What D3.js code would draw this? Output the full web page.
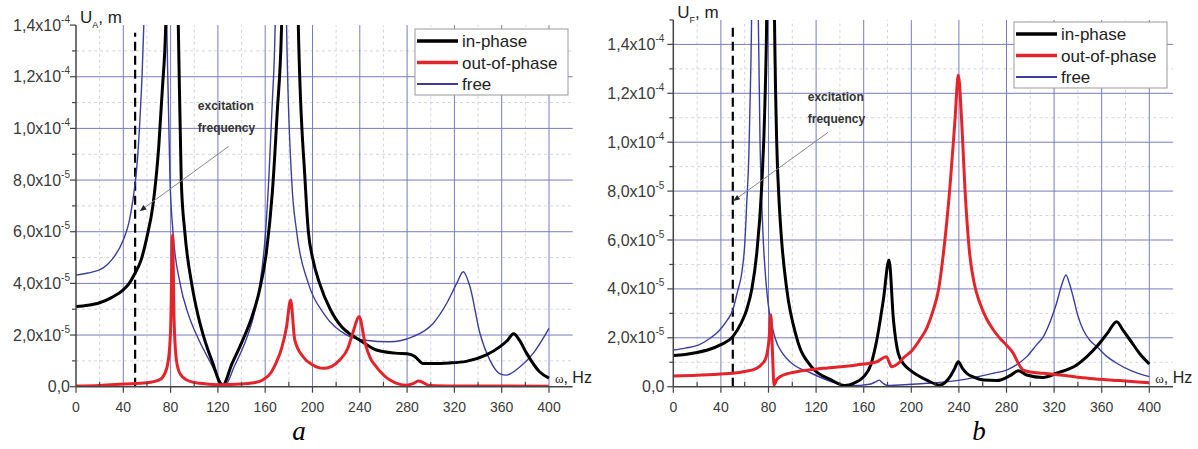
<!DOCTYPE html>
<html>
<head>
<meta charset="utf-8">
<script src="https://cdn.jsdelivr.net/npm/d3@7"></script>
<style>
  body { margin: 0; background: #fff; }
  svg { display: block; font-family: Arial, "Liberation Sans", sans-serif; }
</style>
</head>
<body>
<div id="chart-container"></div>
<script>
// values: [frequency Hz, amplitude in units of 1e-5 m]
const seriesNames = ["in-phase", "out-of-phase", "free"];

const aInPhase = [[0,3.1],[10,3.15],[20,3.25],[30,3.45],[40,3.75],[45,4.0],[50,4.4],[55,4.9],[60,5.8],[65,7.0],[70,9.3],[73,11.5],[76,14.2],[80,40],[84,19],[86.5,14],[89,8.0],[92,6.0],[97.8,4.0],[103,2.8],[107.6,2.0],[115,1.0],[124,0.05],[132,0.9],[140,1.7],[148,2.6],[155,3.7],[161,5.2],[166,7.5],[170,10.5],[174,14.2],[181,40],[188,14],[193.7,8.0],[196.5,6.0],[200,5.0],[206,4.0],[215,3.0],[225,2.3],[233,2.0],[240,1.8],[254,1.42],[270,1.3],[283,1.25],[287,1.15],[293.6,0.9],[300,0.9],[316,0.92],[330,0.98],[347,1.23],[358.6,1.55],[365,1.8],[370,2.05],[375,1.8],[381,1.3],[392,0.58],[400,0.33]];
const aOutPhase = [[0,0.03],[20,0.05],[40,0.1],[60,0.15],[70,0.25],[75,0.5],[78,1.0],[80,2.2],[81.7,5.87],[83,2.5],[85,1.0],[88,0.5],[93.6,0.26],[105,0.13],[120,0.08],[140,0.1],[150,0.15],[158,0.26],[165,0.55],[169,0.9],[174,1.5],[178,2.3],[181.5,3.36],[185,1.81],[192,1.16],[200,0.85],[209,0.71],[216,0.78],[223,1.03],[230,1.5],[234,2.07],[239.5,2.71],[244.5,1.68],[249,1.1],[254,0.77],[265.5,0.26],[279.6,0.06],[285,0.12],[289.5,0.22],[294,0.15],[299,0.05],[320,0.03],[400,0.02]];
const aFree = [[0,4.32],[10,4.4],[23,4.6],[30,4.9],[40,5.68],[45,6.4],[48.5,7.35],[52,8.8],[54,10.3],[56,12.2],[57.5,14.2],[67,40],[76.7,14.2],[79.5,8.0],[82,6.0],[88,4.0],[95,2.8],[102,2.0],[113,1.0],[126,0.05],[134,0.8],[142,1.6],[150,2.7],[155,3.8],[160,5.8],[163,8.0],[166,11],[168.5,14.2],[173,40],[178,14.2],[182.4,8.0],[186.6,6.0],[196.5,4.0],[210,2.8],[229,2.0],[245,1.8],[265,1.74],[285,1.94],[302,2.45],[313.5,3.23],[322,4.0],[327.5,4.45],[333,3.9],[341.6,2.07],[350,1.03],[358.6,0.5],[364,0.45],[375.5,0.77],[386.6,1.29],[400,2.26]];

const bInPhase = [[0,1.28],[10,1.32],[20,1.4],[30,1.52],[40,1.72],[50,2.05],[57,2.6],[62,3.2],[66,4.0],[70,5.4],[74.3,8.2],[77,11.6],[78.5,15.2],[81.5,40],[85,15.2],[86.9,10],[89,7.5],[91,6.0],[95.3,4.0],[103.7,2.0],[116,0.82],[133,0.27],[144,0.05],[152,0.15],[160,0.41],[166,0.9],[171,1.91],[176.5,3.55],[181.3,5.18],[185,2.73],[189,1.37],[194,0.9],[199,0.68],[213,0.27],[224,0.07],[229,0.2],[232.6,0.41],[236,0.7],[239.5,1.02],[243,0.75],[246.5,0.55],[253,0.38],[260.5,0.27],[271.7,0.25],[283,0.45],[290,0.65],[297,0.48],[310.7,0.38],[322,0.55],[339,0.89],[355.8,1.64],[365,2.2],[372.6,2.66],[378,2.3],[383.8,1.91],[392,1.35],[400,0.93]];
const bOutPhase = [[0,0.44],[20,0.47],[40,0.52],[50,0.55],[60,0.62],[70,0.75],[75,0.95],[78,1.2],[80.4,1.91],[82,2.93],[83.5,1.2],[84.6,0.07],[87,0.3],[89.7,0.41],[95,0.52],[103.7,0.61],[126,0.75],[154,0.89],[171,1.02],[179,1.23],[183.5,0.82],[190.5,1.02],[193,1.16],[200,1.45],[207,1.91],[213,2.4],[218.5,3.14],[223,4.0],[227,5.46],[232.5,8.18],[236.7,10.9],[239.5,12.75],[242.3,10.9],[245,8.18],[249,5.46],[253,4.2],[257.7,3.41],[263,2.8],[269,2.32],[275,1.95],[280,1.7],[285.7,1.37],[290,0.95],[294,0.68],[300,0.6],[311,0.55],[325,0.48],[350,0.34],[375,0.25],[400,0.16]];
const bFree = [[0,1.5],[10,1.58],[21,1.7],[30,1.95],[39,2.32],[45,2.7],[50,3.14],[54,3.9],[57.5,4.64],[60,5.8],[61.7,7.5],[63.5,9.5],[64.5,11.6],[65.8,15.2],[68.5,40],[71.4,15.2],[72.9,10],[74,8.0],[75.6,6.0],[78.4,4.0],[85.5,2.0],[92,1.35],[99.5,0.96],[116,0.55],[133,0.2],[145,0.03],[155,0.05],[165,0.1],[170,0.2],[173,0.27],[176,0.15],[180,0.05],[200,0.1],[213,0.14],[241,0.27],[269,0.55],[280,0.68],[288.7,0.9],[297,1.23],[305,1.7],[311,2.05],[317,2.7],[322,3.4],[326,4.1],[330,4.57],[333,4.2],[336,3.68],[340,2.9],[344.5,2.32],[350,1.9],[355.8,1.64],[364,1.25],[372.6,0.96],[385,0.65],[400,0.41]];

const xTicks = [0, 40, 80, 120, 160, 200, 240, 280, 320, 360, 400];
const yTickLabels = [["0,0"], ["2,0", "-5"], ["4,0", "-5"], ["6,0", "-5"], ["8,0", "-5"], ["1,0", "-4"], ["1,2", "-4"], ["1,4", "-4"]];
const excitationHz = 50;

const colors = {"in-phase": "#000", "out-of-phase": "#e3242b", "free": "#3d3d9e"};
const widths = {"in-phase": 3, "out-of-phase": 3, "free": 1.4};

const width = 1198, height = 449;
const svg = d3.select("#chart-container").append("svg")
    .attr("width", width)
    .attr("height", height);

function drawPanel(p) {
    const x = d3.scaleLinear().domain([0, 420]).range([p.left, p.left + 420 * p.kx]);
    const y = d3.scaleLinear().domain([0, p.ymax]).range([p.bottom, p.bottom - p.ymax * p.ky]);
    const g = svg.append("g");

    const clipId = "clip" + p.id;
    g.append("clipPath").attr("id", clipId)
        .append("rect")
        .attr("x", x(0)).attr("y", y(p.ymax))
        .attr("width", x(420) - x(0)).attr("height", y(0) - y(p.ymax));

    // minor grid
    g.append("g").selectAll("line")
        .data(d3.range(20, 420, 40))
        .enter().append("line")
        .attr("x1", d => x(d)).attr("x2", d => x(d))
        .attr("y1", y(0)).attr("y2", y(p.ymax))
        .attr("stroke", "#d4d4e4").attr("stroke-dasharray", "3,3").attr("stroke-width", 1);
    g.append("g").selectAll("line")
        .data(d3.range(1, p.ymax, 2))
        .enter().append("line")
        .attr("x1", x(0)).attr("x2", x(420))
        .attr("y1", d => y(d)).attr("y2", d => y(d))
        .attr("stroke", "#d4d4e4").attr("stroke-dasharray", "3,3").attr("stroke-width", 1);

    // major grid
    g.append("g").selectAll("line")
        .data(xTicks.slice(1))
        .enter().append("line")
        .attr("x1", d => x(d)).attr("x2", d => x(d))
        .attr("y1", y(0)).attr("y2", y(p.ymax))
        .attr("stroke", "#7a7ac4").attr("stroke-width", 1);
    g.append("g").selectAll("line")
        .data(d3.range(2, p.ymax, 2))
        .enter().append("line")
        .attr("x1", x(0)).attr("x2", x(420))
        .attr("y1", d => y(d)).attr("y2", d => y(d))
        .attr("stroke", "#7a7ac4").attr("stroke-width", 1);

    // excitation frequency line
    g.append("line")
        .attr("x1", x(excitationHz)).attr("x2", x(excitationHz))
        .attr("y1", y(0)).attr("y2", y(p.dashTop))
        .attr("stroke", "#000").attr("stroke-width", 2.2).attr("stroke-dasharray", "9,5");

    // curves
    const line = d3.line()
        .x(d => x(d[0]))
        .y(d => y(d[1]))
        .curve(d3.curveMonotoneX);
    const curves = g.append("g").attr("clip-path", `url(#${clipId})`);
    [["free", p.free], ["in-phase", p.inPhase], ["out-of-phase", p.outPhase]].forEach(([name, data]) => {
        curves.append("path")
            .datum(data)
            .attr("d", line)
            .attr("fill", "none")
            .attr("stroke", colors[name])
            .attr("stroke-width", widths[name])
            .attr("stroke-linejoin", "round");
    });

    // axes
    const axisColor = "#444";
    g.append("line").attr("x1", x(0)).attr("x2", x(420)).attr("y1", y(0)).attr("y2", y(0))
        .attr("stroke", axisColor).attr("stroke-width", 1.5);
    g.append("line").attr("x1", x(0)).attr("x2", x(0)).attr("y1", y(0)).attr("y2", y(p.ymax))
        .attr("stroke", axisColor).attr("stroke-width", 1.5);

    g.append("g").selectAll("line")
        .data(xTicks)
        .enter().append("line")
        .attr("x1", d => x(d)).attr("x2", d => x(d))
        .attr("y1", y(0)).attr("y2", y(0) + 6)
        .attr("stroke", axisColor).attr("stroke-width", 1.2);
    g.append("g").selectAll("line")
        .data(d3.range(20, 420, 40))
        .enter().append("line")
        .attr("x1", d => x(d)).attr("x2", d => x(d))
        .attr("y1", y(0)).attr("y2", y(0) - 5)
        .attr("stroke", axisColor).attr("stroke-width", 1.2);
    g.append("g").selectAll("line")
        .data(d3.range(0, p.ymax + 0.1, 1))
        .enter().append("line")
        .attr("x1", x(0))
        .attr("x2", d => x(0) - (d % 2 === 0 ? 6 : 4))
        .attr("y1", d => y(d)).attr("y2", d => y(d))
        .attr("stroke", axisColor).attr("stroke-width", 1.2);

    g.append("g").selectAll("text")
        .data(xTicks)
        .enter().append("text")
        .attr("x", d => x(d)).attr("y", y(0) + 25)
        .attr("text-anchor", "middle")
        .attr("fill", "#3a3a3a")
        .style("font-size", "14px")
        .text(d3.format("d"));

    const yl = g.append("g").selectAll("text")
        .data(yTickLabels)
        .enter().append("text")
        .attr("x", x(0) - (p.id === "a" ? 6 : 9)).attr("y", (d, i) => y(i * 2) + 5.5)
        .attr("text-anchor", "end")
        .attr("fill", "#3a3a3a")
        .style("font-size", "16px");
    yl.append("tspan").text(d => d.length > 1 ? d[0] + "x10" : d[0]);
    yl.append("tspan").attr("dy", -8).style("font-size", "10px").text(d => d.length > 1 ? d[1] : "");

    // axis titles
    const yt = g.append("text").attr("x", x(0) + 4).attr("y", y(p.ymax) - 2)
        .attr("fill", "#222").style("font-size", "17px");
    yt.append("tspan").text("U");
    yt.append("tspan").attr("dy", 5).style("font-size", "9px").text(p.sub);
    yt.append("tspan").attr("dy", -5).text(", m");

    const xt = g.append("text").attr("x", x(405)).attr("y", y(0) - 4).attr("fill", "#222");
    xt.append("tspan").style("font-family", "'Liberation Serif', serif").style("font-size", "13px").text("ω");
    xt.append("tspan").style("font-size", "16px").text(", Hz");

    // annotation
    const ann = g.append("g").attr("fill", "#333").style("font-size", "12px").style("font-weight", "bold");
    ann.append("text").attr("x", x(p.annX)).attr("y", y(p.annY)).text("excitation");
    ann.append("text").attr("x", x(p.annX)).attr("y", y(p.annY) + 22).text("frequency");
    g.append("line")
        .attr("x1", x(p.arrowFrom[0])).attr("y1", y(p.arrowFrom[1]))
        .attr("x2", x(p.arrowTo[0])).attr("y2", y(p.arrowTo[1]))
        .attr("stroke", "#888").attr("stroke-width", 1);
    const ax = x(p.arrowTo[0]), ay = y(p.arrowTo[1]);
    const ang = Math.atan2(y(p.arrowFrom[1]) - ay, x(p.arrowFrom[0]) - ax);
    g.append("path")
        .attr("d", `M${ax},${ay} L${ax + 7 * Math.cos(ang - 0.4)},${ay + 7 * Math.sin(ang - 0.4)} L${ax + 7 * Math.cos(ang + 0.4)},${ay + 7 * Math.sin(ang + 0.4)} Z`)
        .attr("fill", "#222");

    // legend
    const lg = g.append("g").attr("transform", `translate(${p.legend[0]},${p.legend[1]})`);
    lg.append("rect").attr("width", 153).attr("height", 66)
        .attr("fill", "#fff").attr("stroke", "#999").attr("stroke-width", 1);
    seriesNames.forEach((name, i) => {
        lg.append("line").attr("x1", 2).attr("x2", 43).attr("y1", 12 + i * 21.5).attr("y2", 12 + i * 21.5)
            .attr("stroke", colors[name]).attr("stroke-width", widths[name] + 0.5);
        lg.append("text").attr("x", 47).attr("y", 18 + i * 21.5)
            .attr("fill", "#222").style("font-size", "17px").text(name);
    });

    svg.append("text")
        .attr("x", p.letterX).attr("y", 440)
        .attr("text-anchor", "middle")
        .style("font-family", "'Liberation Serif', 'Times New Roman', serif")
        .style("font-style", "italic").style("font-size", "27px")
        .text(p.id);
}

drawPanel({
    id: "a", sub: "A", left: 76, kx: 1.1825, bottom: 386.7, ky: 25.83, ymax: 14, dashTop: 13.7,
    inPhase: aInPhase, outPhase: aOutPhase, free: aFree,
    annX: 103, annY: 10.7, arrowFrom: [129, 9.3], arrowTo: [54, 6.8],
    legend: [415, 29], letterX: 299
});
drawPanel({
    id: "b", sub: "F", left: 673.3, kx: 1.19, bottom: 386.7, ky: 24.45, ymax: 15, dashTop: 14.7,
    inPhase: bInPhase, outPhase: bOutPhase, free: bFree,
    annX: 113, annY: 11.7, arrowFrom: [130, 10.4], arrowTo: [50.5, 7.6],
    legend: [1014, 22], letterX: 979
});
</script>
</body>
</html>
